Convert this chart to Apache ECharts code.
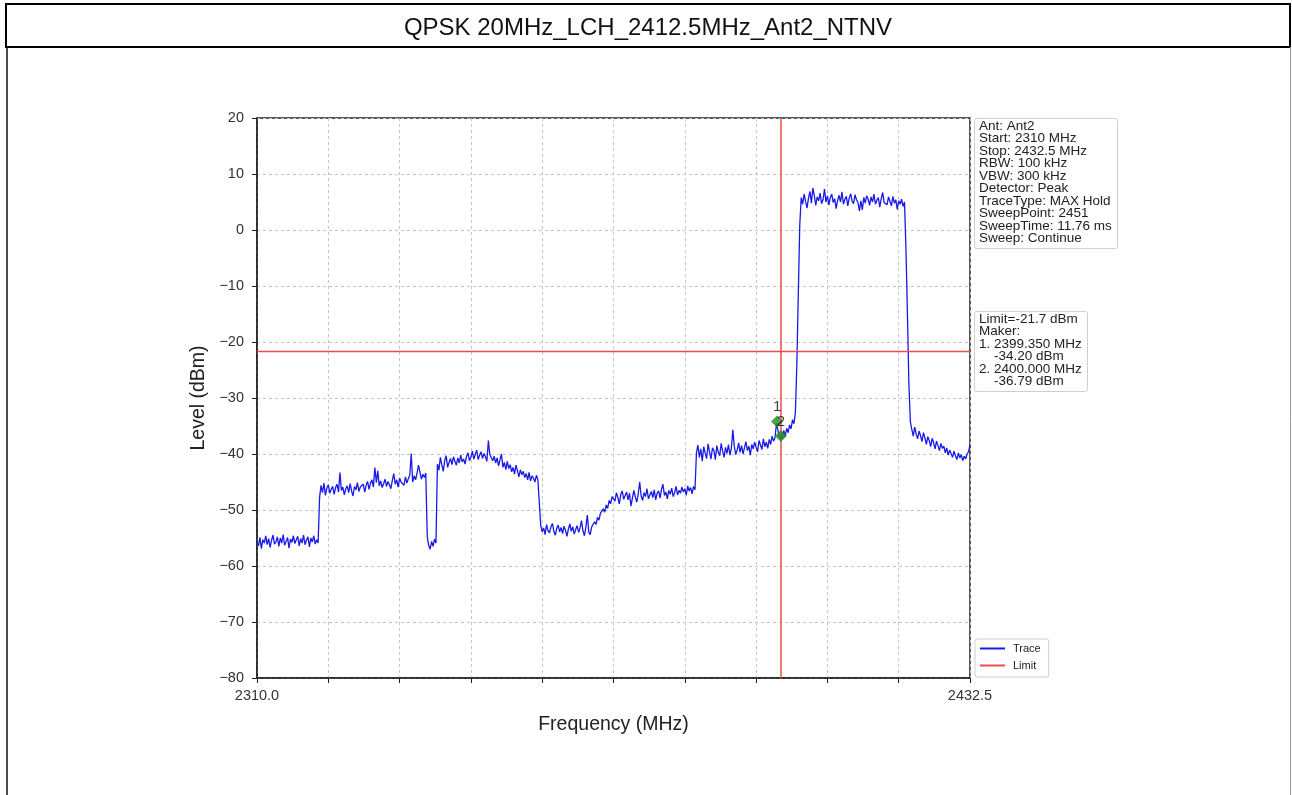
<!DOCTYPE html>
<html>
<head>
<meta charset="utf-8">
<title>QPSK 20MHz_LCH_2412.5MHz_Ant2_NTNV</title>
<script src="https://cdn.jsdelivr.net/npm/echarts@6/dist/echarts.min.js"></script>
<style>
  html, body { margin: 0; padding: 0; background: #ffffff; }
  #chart { width: 1292px; height: 795px; }
</style>
</head>
<body>
<div id="chart"></div>
<script>
// Sweep settings (MHz)
const sweepStart = 2310.0;
const sweepStop = 2432.5;
const sweepStep = 0.25;

// Max-hold trace level (dBm), one value per sweep step
const traceLevel = [
  // 2310.00 - 2320.50
  -55.8,-56.4,-54.9,-56.9,-55.3,-55.9,-54.6,-56.2,-55.1,-56.7,
  -55.4,-54.5,-56.1,-55.7,-54.8,-56.5,-55.0,-55.9,-54.4,-56.3,
  -55.6,-54.9,-56.8,-55.2,-55.8,-54.6,-56.0,-55.3,-54.7,-56.4,
  -55.1,-55.9,-54.5,-56.2,-55.4,-54.8,-56.6,-55.0,-55.7,-54.6,
  -56.1,-55.3,-55.9,
  -47.8,
  // 2321.00 - 2339.00
  -45.6,-46.9,-45.2,-47.4,-46.1,-45.5,-47.0,-46.3,-45.8,-47.2,
  -46.0,-45.4,-46.8,-43.3,-46.5,-45.9,-47.3,-46.2,-45.7,-46.9,
  -45.3,-46.6,-47.5,-45.8,-46.4,-45.1,-46.7,-45.9,-46.2,-45.4,
  -46.8,-45.6,-44.9,-46.3,-45.2,-44.6,-45.9,-42.4,-45.1,-43.0,
  -45.7,-44.8,-46.0,-45.3,-44.5,-45.8,-44.9,-45.5,-46.2,-44.7,
  -43.5,-45.4,-44.6,-45.9,-44.3,-45.0,-44.7,-45.6,-44.1,-45.2,
  -44.4,-43.8,-39.9,-45.0,-43.9,-44.6,-43.4,-42.0,-42.3,-44.5,
  -43.6,-44.2,-43.4,
  // 2339.25 - 2340.75
  -54.8,-56.3,-57.0,-55.6,-56.5,-55.2,-55.9,
  // 2341.00 - 2358.50
  -41.8,-42.9,-40.6,-41.9,-43.1,-41.2,-40.3,-42.4,-41.5,-40.8,
  -41.9,-40.5,-41.3,-42.0,-40.7,-41.6,-40.2,-41.4,-40.9,-41.8,
  -40.4,-39.8,-41.2,-40.6,-39.5,-40.9,-40.1,-39.3,-41.0,-40.2,
  -39.6,-40.8,-39.9,-40.5,-41.3,-37.6,-40.1,-39.8,-41.2,-40.4,
  -41.6,-40.7,-42.1,-41.0,-40.0,-42.4,-41.5,-42.8,-41.3,-42.6,
  -41.9,-43.2,-42.4,-43.6,-42.0,-43.0,-44.1,-42.8,-43.7,-43.1,
  -44.2,-43.5,-44.6,-43.3,-44.8,-43.9,-44.3,-45.0,-43.8,-44.5,
  -44.2,
  // 2358.75 - 2367.50
  -52.8,-53.9,-53.2,-54.4,-52.6,-53.7,-54.1,-53.0,-52.4,-53.8,
  -54.5,-53.3,-52.7,-53.9,-53.1,-54.2,-52.9,-53.6,-54.7,-53.4,
  -52.5,-53.8,-53.0,-54.3,-53.5,-52.8,-54.0,-53.2,-51.9,-53.7,
  -54.6,-53.1,-50.9,-53.9,-54.4,-53.0,
  // 2367.75 - 2371.00
  -52.9,-52.1,-52.6,-51.3,-51.8,-50.6,-50.9,-49.8,-50.4,-49.1,
  -49.7,-48.3,-48.9,-47.6,
  // 2371.25 - 2385.25
  -47.6,-48.4,-46.9,-47.8,-48.9,-47.2,-46.6,-48.1,-47.4,-46.8,
  -48.2,-47.0,-49.3,-47.9,-46.5,-47.7,-48.6,-47.1,-45.0,-47.5,
  -48.3,-46.9,-47.6,-46.2,-48.0,-47.3,-46.7,-47.8,-46.4,-48.2,
  -47.0,-46.6,-47.9,-46.3,-45.4,-47.4,-46.8,-48.0,-46.5,-47.2,
  -46.1,-47.6,-46.9,-45.8,-47.3,-46.5,-47.0,-45.9,-46.8,-46.2,
  -47.4,-45.7,-46.6,-46.0,-47.1,-45.8,-46.4,
  // 2385.50 - 2402.50
  -39.8,-38.4,-40.6,-39.1,-41.3,-38.7,-39.9,-40.8,-38.2,-39.6,
  -40.9,-38.9,-39.4,-41.0,-38.5,-39.7,-40.3,-38.1,-39.5,-40.6,
  -38.8,-39.9,-38.3,-40.2,-39.0,-35.7,-38.6,-40.1,-39.3,-38.0,
  -39.7,-38.5,-40.0,-38.9,-37.8,-39.4,-38.6,-40.2,-38.3,-39.1,
  -37.9,-38.8,-39.6,-37.6,-38.4,-39.2,-37.3,-38.7,-37.9,-39.0,
  -37.4,-38.3,-36.8,-37.7,-37.1,
  -34.5,-34.3,-37.0,-36.79,-37.3,-35.8,-36.9,-35.4,-36.2,-34.8,
  -35.5,-33.9,-34.6,-32.6,
  // 2402.75 - 2403.25 (band edge)
  -24.0,-11.5,0.8,
  // 2403.50 - 2421.25 (in-band)
  5.8,4.6,6.4,5.1,3.9,5.7,6.9,4.8,7.5,6.2,
  4.4,5.9,5.2,6.6,4.7,5.4,7.3,5.0,6.1,4.5,
  5.8,6.4,4.9,5.6,3.8,5.3,6.2,5.0,6.8,4.6,
  5.5,6.0,4.3,5.7,6.5,5.1,4.7,6.3,5.4,4.9,
  3.4,5.2,3.6,5.8,4.8,6.1,5.5,4.4,5.9,5.0,
  6.4,4.6,5.3,5.8,4.1,5.6,6.7,4.9,5.2,4.5,
  5.9,5.1,4.3,6.0,4.8,5.4,3.7,5.2,4.6,5.5,
  4.2,5.0,
  // 2421.50 - 2422.25 (band edge)
  -3.5,-15.0,-27.5,-34.2,
  // 2422.50 - 2432.50
  -35.6,-36.8,-35.2,-36.4,-37.3,-35.9,-36.7,-37.8,-36.2,-37.1,
  -38.3,-36.9,-37.6,-38.7,-37.2,-38.0,-39.1,-37.7,-38.5,-39.4,
  -38.1,-39.0,-38.6,-39.8,-38.9,-40.2,-39.3,-39.9,-40.6,-39.5,
  -40.3,-41.0,-39.8,-40.7,-40.1,-41.2,-40.4,-40.9,-40.0,-39.6,
  -38.3
];

// Limit and markers
const limitLevel = -21.7;
const markerFreq = [2399.35, 2400.0];
const markerLevel = [-34.20, -36.79];

// Axes
const levelMin = -80;
const levelMax = 20;
const levelStep = 10;
const freqDivisions = 10;

// Measurement settings panel
const settingLines = [
  'Ant: Ant2',
  'Start: 2310 MHz',
  'Stop: 2432.5 MHz',
  'RBW: 100 kHz',
  'VBW: 300 kHz',
  'Detector: Peak',
  'TraceType: MAX Hold',
  'SweepPoint: 2451',
  'SweepTime: 11.76 ms',
  'Sweep: Continue'
];

const titleText = 'QPSK 20MHz_LCH_2412.5MHz_Ant2_NTNV';

const FONT = '"Liberation Sans", Arial, Helvetica, sans-serif';
const TRACE_COLOR = '#1a1ae6';
const LIMIT_COLOR = '#ee4b4b';
const MARKER_COLOR = '#1e8c1e';

const traceData = traceLevel.map((v, i) => [sweepStart + i * sweepStep, v]);
const markerData = markerFreq.map((f, i) => [f, markerLevel[i]]);

const minus = (s) => String(s).replace('-', '\u2212');

const markerLines = ['Limit=' + limitLevel + ' dBm', 'Maker:'];
markerFreq.forEach((f, i) => {
  markerLines.push((i + 1) + '. ' + f.toFixed(3) + ' MHz');
  markerLines.push('    ' + markerLevel[i].toFixed(2) + ' dBm');
});

const G = { left: 257, top: 118, width: 713, height: 560 };

const chart = echarts.init(document.getElementById('chart'), null, { renderer: 'canvas' });

chart.setOption({
  animation: false,
  backgroundColor: '#ffffff',
  textStyle: { fontFamily: FONT },
  grid: {
    left: G.left, top: G.top, width: G.width, height: G.height,
    show: true, borderColor: '#222', borderWidth: 1.5, backgroundColor: '#ffffff'
  },
  legend: {
    data: [
      { name: 'Trace', icon: 'rect' },
      { name: 'Limit', icon: 'rect' }
    ],
    orient: 'vertical',
    left: 975, top: 639,
    itemWidth: 25, itemHeight: 2, itemGap: 6,
    padding: [4, 8, 6, 5],
    backgroundColor: '#ffffff',
    borderColor: '#cfcfcf', borderWidth: 1, borderRadius: 2,
    textStyle: { fontSize: 11, color: '#222', fontFamily: FONT, padding: [0, 0, 0, 3] },
    selectedMode: false
  },
  xAxis: [
    {
      // division ticks and labels
      type: 'value', min: 0, max: freqDivisions, interval: 1,
      position: 'bottom',
      axisLine: { show: true, onZero: false, lineStyle: { color: '#222', width: 1.5 } },
      axisTick: { show: true, inside: false, length: 5, lineStyle: { color: '#222', width: 1 } },
      axisLabel: {
        margin: 10, fontSize: 14.5, color: '#333', fontFamily: FONT,
        formatter: (v) => v === 0 ? sweepStart.toFixed(1) : (v === freqDivisions ? sweepStop.toFixed(1) : '')
      },
      splitLine: { show: true, lineStyle: { color: '#c4c4c4', type: [3, 3], width: 1 } },
      name: 'Frequency (MHz)', nameLocation: 'middle', nameGap: 37,
      nameTextStyle: { fontSize: 19.5, color: '#222', fontFamily: FONT }
    },
    {
      // frequency scale used by the data
      type: 'value', min: sweepStart, max: sweepStop, show: false,
      axisLine: { onZero: false }
    }
  ],
  yAxis: {
    type: 'value', min: levelMin, max: levelMax, interval: levelStep,
    axisLine: { show: true, onZero: false, lineStyle: { color: '#222', width: 1.5 } },
    axisTick: { show: true, inside: false, length: 5, lineStyle: { color: '#222', width: 1 } },
    axisLabel: { margin: 13, fontSize: 14.5, color: '#333', fontFamily: FONT, formatter: (v) => minus(v) },
    splitLine: { show: true, lineStyle: { color: '#c4c4c4', type: [3, 3], width: 1 } },
    name: 'Level (dBm)', nameLocation: 'middle', nameGap: 43,
    nameTextStyle: { fontSize: 19.5, color: '#222', fontFamily: FONT }
  },
  series: [
    {
      name: 'Trace', type: 'line', xAxisIndex: 1, data: traceData,
      symbol: 'none', smooth: false,
      lineStyle: { color: TRACE_COLOR, width: 1.3, opacity: 1 },
      itemStyle: { color: TRACE_COLOR },
      emphasis: { disabled: true },
      z: 2
    },
    {
      name: 'Limit', type: 'line', xAxisIndex: 1,
      data: [[sweepStart, limitLevel], [sweepStop, limitLevel]],
      symbol: 'none',
      lineStyle: { color: LIMIT_COLOR, width: 1.5, opacity: 1, type: 'solid' },
      itemStyle: { color: LIMIT_COLOR },
      emphasis: { disabled: true },
      markLine: {
        silent: true, symbol: ['none', 'none'], label: { show: false },
        lineStyle: { color: LIMIT_COLOR, width: 1.5, type: 'solid', opacity: 1 },
        emphasis: { disabled: true },
        data: [{ xAxis: markerFreq[1] }]
      },
      z: 3
    },
    {
      name: 'Markers', type: 'scatter', xAxisIndex: 1, data: markerData,
      symbol: 'diamond', symbolSize: 12,
      itemStyle: { color: MARKER_COLOR },
      label: {
        show: true, position: 'top', distance: 1,
        color: '#111', fontSize: 15, fontFamily: FONT,
        formatter: (p) => String(p.dataIndex + 1)
      },
      z: 5
    }
  ],
  graphic: [
    // page frame
    { type: 'rect', shape: { x: 6, y: 4, width: 1284, height: 43 },
      style: { fill: 'none', stroke: '#000', lineWidth: 2 }, z: 10 },
    { type: 'line', shape: { x1: 7, y1: 47, x2: 7, y2: 800 },
      style: { stroke: '#111', lineWidth: 1.5 }, z: 10 },
    { type: 'line', shape: { x1: 1290.5, y1: 47, x2: 1290.5, y2: 800 },
      style: { stroke: '#9a9a9a', lineWidth: 1 }, z: 10 },
    { type: 'text', x: 648, y: 28,
      style: { text: titleText, font: '24px ' + FONT, fill: '#111', align: 'center', verticalAlign: 'middle' }, z: 10 },
    // measurement settings panel
    { type: 'rect', shape: { x: 974.5, y: 118.5, width: 143, height: 130, r: 2 },
      style: { fill: '#ffffff', stroke: '#cfcfcf', lineWidth: 1 }, z: 10 },
    { type: 'text', x: 979, y: 120,
      style: { text: settingLines.join('\n'), font: '13.5px ' + FONT, lineHeight: 12.5, fill: '#222', align: 'left', verticalAlign: 'top' }, z: 11 },
    // limit and marker readout panel
    { type: 'rect', shape: { x: 974.5, y: 311.5, width: 113, height: 80, r: 2 },
      style: { fill: '#ffffff', stroke: '#cfcfcf', lineWidth: 1 }, z: 10 },
    { type: 'text', x: 979, y: 313,
      style: { text: markerLines.join('\n'), font: '13.5px ' + FONT, lineHeight: 12.4, fill: '#222', align: 'left', verticalAlign: 'top' }, z: 11 }
  ]
});
</script>
</body>
</html>
